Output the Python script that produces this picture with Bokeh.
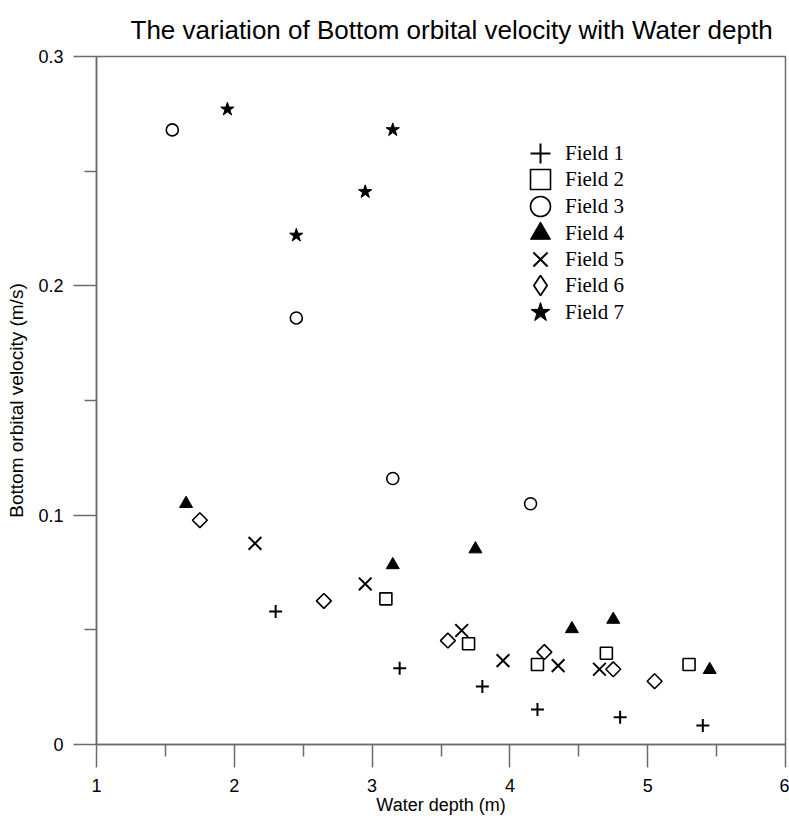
from bokeh.plotting import figure
from bokeh.models import Range1d, FixedTicker, Legend, LegendItem, ColumnDataSource
from bokeh.embed import file_html
from bokeh.resources import INLINE
import numpy as np

# ---------------- data ----------------
title_text = "The variation of Bottom orbital velocity with Water depth"
x_label = "Water depth (m)"
y_label = "Bottom orbital velocity (m/s)"

field_names = ["Field 1", "Field 2", "Field 3", "Field 4", "Field 5", "Field 6", "Field 7"]

field1_depth = [2.30, 3.20, 3.80, 4.20, 4.80, 5.40]
field1_vel = [0.058, 0.0333, 0.0253, 0.0153, 0.0119, 0.0083]

field2_depth = [3.10, 3.70, 4.20, 4.70, 5.30]
field2_vel = [0.0635, 0.0439, 0.0349, 0.0398, 0.0349]

field3_depth = [1.55, 2.45, 3.15, 4.15]
field3_vel = [0.268, 0.186, 0.116, 0.105]

field4_depth = [1.65, 3.15, 3.75, 4.45, 4.75, 5.45]
field4_vel = [0.105, 0.0783, 0.0852, 0.0504, 0.0545, 0.0326]

field5_depth = [2.15, 2.95, 3.65, 3.95, 4.35, 4.65]
field5_vel = [0.0877, 0.070, 0.0497, 0.0366, 0.0344, 0.0328]

field6_depth = [1.75, 2.65, 3.55, 4.25, 4.75, 5.05]
field6_vel = [0.0978, 0.0626, 0.0453, 0.0403, 0.0328, 0.0276]

field7_depth = [1.95, 2.45, 2.95, 3.15]
field7_vel = [0.277, 0.222, 0.241, 0.268]

x_ticks = [1, 2, 3, 4, 5, 6]
x_minor_ticks = [1.5, 2.5, 3.5, 4.5, 5.5]
y_ticks = [0, 0.1, 0.2, 0.3]
y_minor_ticks = [0.05, 0.15, 0.25]
y_tick_labels = ["0", "0.1", "0.2", "0.3"]

# ---------------- figure ----------------
AX = "#6b6b6b"
SANS = "Liberation Sans"

p = figure(width=789, height=820, output_backend="svg", toolbar_location=None,
           x_range=Range1d(1, 6), y_range=Range1d(0, 0.3),
           min_border_left=96, min_border_right=4, min_border_top=56, min_border_bottom=76)

p.background_fill_color = "white"
p.border_fill_color = "white"
p.outline_line_color = AX
p.outline_line_width = 1.5
p.xgrid.visible = False
p.ygrid.visible = False

p.title.text = title_text
p.title.text_font = SANS
p.title.text_font_size = "26px"
p.title.text_font_style = "normal"
p.title.align = "left"
p.title.offset = 34
p.title.standoff = 24
p.title.text_color = "black"

p.xaxis.ticker = FixedTicker(ticks=x_ticks, minor_ticks=x_minor_ticks)
p.yaxis.ticker = FixedTicker(ticks=y_ticks, minor_ticks=y_minor_ticks)
p.yaxis.major_label_overrides = dict(zip(y_ticks, y_tick_labels))
p.xaxis.axis_label = x_label
p.yaxis.axis_label = y_label

for ax in (p.xaxis, p.yaxis):
    ax.axis_line_color = AX
    ax.axis_line_width = 1.5
    ax.major_tick_line_color = AX
    ax.major_tick_line_width = 1.5
    ax.minor_tick_line_color = AX
    ax.minor_tick_line_width = 1.5
    ax.major_tick_out = 23
    ax.major_tick_in = 0
    ax.minor_tick_out = 12
    ax.minor_tick_in = 0
    ax.major_label_text_font = SANS
    ax.major_label_text_font_size = "18px"
    ax.major_label_text_color = "black"
    ax.axis_label_text_font = SANS
    ax.axis_label_text_font_style = "normal"
    ax.axis_label_text_color = "black"

p.xaxis.axis_label_text_font_size = "18px"
p.yaxis.axis_label_text_font_size = "19px"
p.xaxis.major_label_standoff = 11
p.xaxis.axis_label_standoff = 0
p.yaxis.major_label_standoff = 10
p.yaxis.axis_label_standoff = 8

# ---------------- markers ----------------
r1 = p.scatter(field1_depth, field1_vel, marker="cross", size=13, line_color="black", line_width=2)
r2 = p.scatter(field2_depth, field2_vel, marker="square", size=12, line_color="black",
               line_width=1.6, fill_color=None)
r3 = p.scatter(field3_depth, field3_vel, marker="circle", size=12, line_color="black",
               line_width=1.6, fill_color=None)
r4 = p.scatter(field4_depth, field4_vel, marker="triangle", size=13, line_color="black",
               line_width=1, fill_color="black")
r5 = p.scatter(field5_depth, field5_vel, marker="x", size=18, line_color="black", line_width=2)
r6 = p.scatter(field6_depth, field6_vel, marker="square", angle=np.pi / 4, size=10.5,
               line_color="black", line_width=1.6, fill_color=None)
r7 = p.scatter(field7_depth, field7_vel, marker="star", size=14, line_color="black",
               line_width=1, fill_color="black")

# legend-only symbol for Field 6 (a diamond; the legend does not rotate glyphs).
# Its single point is NaN, so it draws nothing inside the plot.
src6_leg = ColumnDataSource(dict(x=[np.nan], y=[np.nan]))
r6_leg = p.scatter("x", "y", source=src6_leg, marker="diamond", size=14,
                   line_color="black", line_width=1.8, fill_color=None)

renderers = [r1, r2, r3, r4, r5, r6_leg, r7]
box = 50  # legend glyph box; symbol size = 0.4 * box
legend_center_x = 540
legend_row_y = [153 + 26.5 * i for i in range(len(field_names))]

frame_left, frame_bottom = 96, 744
for name, r, cy in zip(field_names, renderers, legend_row_y):
    lg = Legend(items=[LegendItem(label=name, renderers=[r])],
                location=(int(round(legend_center_x - box / 2 - frame_left)),
                          int(round(frame_bottom - cy - box / 2))),
                glyph_width=box, glyph_height=box, label_standoff=0, padding=0, margin=0,
                border_line_color=None, background_fill_alpha=0,
                label_text_font="Liberation Serif", label_text_font_size="21px",
                label_text_color="black")
    p.add_layout(lg)

open("out.html", "w").write(file_html(p, INLINE))
